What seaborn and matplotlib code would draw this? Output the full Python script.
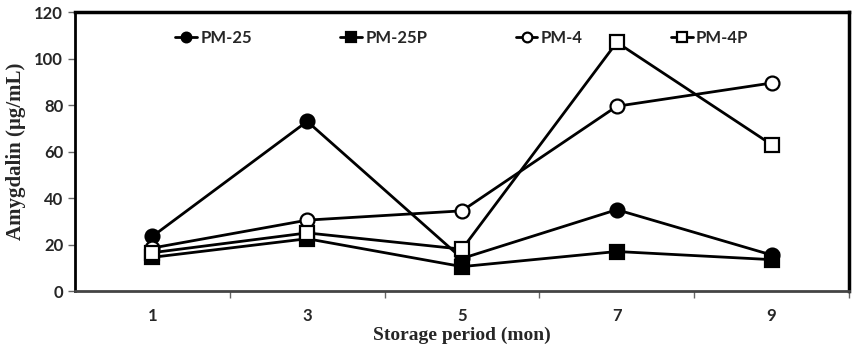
import numpy as np
import pandas as pd
import matplotlib
matplotlib.use("Agg")
import matplotlib.pyplot as plt
import seaborn as sns

# --- values ---
months = ["1", "3", "5", "7", "9"]
pm25 = [23.5, 73, 14, 35, 15.5]
pm25p = [14.5, 22.5, 10.5, 17, 13.5]
pm4 = [18.5, 30.5, 34.5, 79.5, 89.5]
pm4p = [16.5, 25, 18, 107, 63]

series_names = ["PM-25", "PM-25P", "PM-4", "PM-4P"]
series_values = [pm25, pm25p, pm4, pm4p]

rows = []
for name, vals in zip(series_names, series_values):
    for i, v in enumerate(vals):
        rows.append({"pos": i, "month": months[i], "series": name, "value": v})
df = pd.DataFrame(rows)

sns.set_style("ticks")
plt.rcParams["font.family"] = ["Lato", "DejaVu Sans"]

fig = plt.figure(figsize=(8.58, 3.53), dpi=100)
ax = fig.add_axes([0.0874, 0.1756, 0.9021, 0.79])

# marker, face colour per series
styles = {
    "PM-25": ("o", "black"),
    "PM-25P": ("s", "black"),
    "PM-4": ("o", "white"),
    "PM-4P": ("s", "white"),
}

for name in series_names:
    sub = df[df["series"] == name]
    m, fc = styles[name]
    sns.lineplot(data=sub, x="pos", y="value", ax=ax, color="black", lw=2,
                 marker=m, markersize=10, markerfacecolor=fc,
                 markeredgecolor="black", markeredgewidth=1.6, label=name)

ax.set_xlim(-0.5, 4.5)
ax.set_ylim(0, 120)
ax.set_yticks(np.arange(0, 121, 20))
ax.set_xticks(range(len(months)))
ax.set_xticklabels(months)
ax.set_xticks(np.arange(0.5, 4.6, 1), minor=True)
ax.tick_params(axis="x", which="major", length=0, pad=12, labelsize=12)
ax.tick_params(axis="x", which="minor", length=5, width=1, color="#666666", direction="out")
ax.tick_params(axis="y", length=5, width=1, color="#666666", labelsize=12)
for lab in ax.get_xticklabels() + ax.get_yticklabels():
    lab.set_fontweight("bold")

for side in ["top", "right", "left", "bottom"]:
    ax.spines[side].set_visible(True)
    ax.spines[side].set_color("black")
ax.spines["top"].set_linewidth(2.5)
ax.spines["right"].set_linewidth(2.5)
ax.spines["left"].set_linewidth(2)
ax.spines["bottom"].set_linewidth(2)
ax.spines["bottom"].set_color("#444444")

ax.set_xlabel("Storage period (mon)", family=["Liberation Serif", "DejaVu Serif"],
              fontweight="bold", fontsize=14, labelpad=2)
ax.set_ylabel("Amygdalin (\u00b5g/mL)", family=["Liberation Serif", "DejaVu Serif"],
              fontweight="bold", fontsize=15, labelpad=6)

leg = ax.legend(loc="upper center", bbox_to_anchor=(0.5, 0.99), ncol=4, frameon=False,
                handlelength=1.3, handletextpad=0.2, columnspacing=5.3,
                prop={"weight": "bold", "size": 12})
for h in leg.legend_handles:
    h.set_markersize(7)
    h.set_linewidth(2)

fig.savefig("out.png", dpi=100)
